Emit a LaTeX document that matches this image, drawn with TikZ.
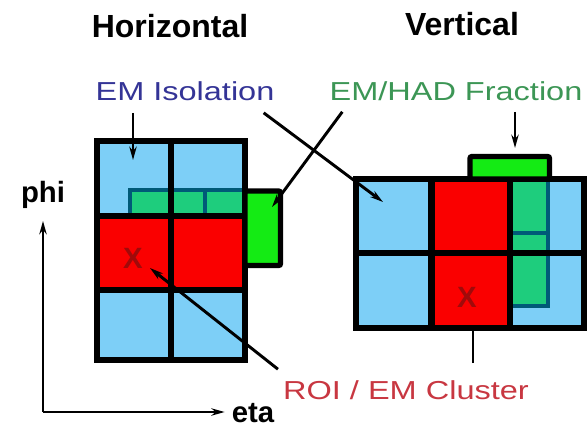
\documentclass[tikz,border=0pt]{standalone}
\usepackage{fontspec}
\setmainfont{Liberation Sans}
\newfontfamily\widefont[FakeStretch=1.25]{Liberation Sans}
\usepackage{xcolor}
\usepackage{tikz}
\usetikzlibrary{arrows.meta}

\definecolor{cellblue}{RGB}{125,207,247}
\definecolor{cellred}{RGB}{250,0,0}
\definecolor{hadgreen}{RGB}{30,205,125}
\definecolor{boxgreen}{RGB}{20,235,20}
\definecolor{tealline}{RGB}{0,90,120}
\definecolor{xred}{RGB}{160,10,10}
\definecolor{isoblue}{RGB}{52,52,150}
\definecolor{fracgreen}{RGB}{60,150,85}
\definecolor{roired}{RGB}{200,55,65}

\begin{document}
\begin{tikzpicture}[x=0.75pt,y=0.75pt,yscale=-1,xscale=1,
  cellline/.style={line width=5pt},
  tealedge/.style={draw=tealline,line width=3pt},
  greenbox/.style={fill=boxgreen,draw=black,line width=4pt,rounded corners=1.5pt},
  pointer/.style={line width=2.2pt,-{Stealth[length=10pt,width=5.5pt]}},
  headtxt/.style={inner sep=0.75pt,font=\fontsize{24}{28}\selectfont\bfseries},
  lbltxt/.style={inner sep=0.75pt,font=\widefont\fontsize{19.5}{23}\selectfont},
  axistxt/.style={inner sep=0.75pt,font=\fontsize{22}{26}\selectfont\bfseries},
  xmark/.style={inner sep=0.75pt,text=xred,font=\fontsize{22}{26}\selectfont\bfseries}]
\useasboundingbox (0,0) rectangle (588,429);

%Shape: Rectangle (horizontal grid)
\fill [cellblue] (97,141) rectangle (245,360);
\fill [cellred] (97,216) rectangle (245,290);
\fill [hadgreen] (130,190) rectangle (245,216);
\draw [tealedge] (245,190) -- (130,190) -- (130,216);
\draw [tealedge] (205,190) -- (205,216);
\draw [cellline] (97,141) rectangle (245,360);
\draw [cellline] (171,141) -- (171,360);
\draw [cellline] (97,216) -- (245,216) (97,290) -- (245,290);
%Shape: Rectangle (HAD box)
\draw [greenbox] (245,191) rectangle (280.5,265.5);

%Shape: Rectangle (vertical grid)
\fill [cellblue] (356,179) rectangle (584,328);
\fill [cellred] (431.5,179) rectangle (510,328);
\fill [hadgreen] (510,179) rectangle (548,305.5);
\draw [tealedge] (548,179) -- (548,305.5) -- (510,305.5);
\draw [tealedge] (510,233) -- (548,233);
\draw [cellline] (356,179) rectangle (584,328);
\draw [cellline] (431.5,179) -- (431.5,328) (510,179) -- (510,328);
\draw [cellline] (356,253) -- (584,253);
%Shape: Rectangle (HAD box)
\draw [greenbox] (470,156.5) rectangle (549.5,179);

% Text Node
\draw (133,258) node [xmark] (xleft) {X};
% Text Node
\draw (467,297) node [xmark] (xright) {X};
% Text Node
\draw (170,26) node [headtxt] (horiz) {Horizontal};
% Text Node
\draw (462,24) node [headtxt] (vert) {Vertical};
% Text Node
\draw (185,91) node [lbltxt,text=isoblue] (emiso) {EM Isolation};
% Text Node
\draw (456,91) node [lbltxt,text=fracgreen] (emhad) {EM/HAD Fraction};
% Text Node
\draw (406,390) node [lbltxt,text=roired] (roi) {ROI / EM Cluster};
% Text Node
\draw (43,195) node [axistxt] (phi) {phi};
% Text Node
\draw (253,413) node [axistxt] (eta) {eta};

\coordinate (isotip) at (133,160);
\coordinate (vcell) at (383,202);
\coordinate (boxtip) at (272,207);
\coordinate (toptip) at (515,148);
\coordinate (roitip) at (150,268);
\coordinate (roibase) at (473,328);
\coordinate (origin) at (43,412);

%Straight Lines
\draw [pointer] (emiso.south -| isotip) ++(0,11) -- (isotip);
\draw [pointer] (emiso.south east) ++(-12,11) -- (vcell);
\draw [pointer] (emhad.south west) ++(14,10) -- (boxtip);
\draw [pointer] (emhad.south -| toptip) ++(0,10) -- (toptip);
\draw [pointer] (roi.north west) ++(-4,-10) -- (roitip);
\draw [line width=2.2pt] (roi.north -| roibase) ++(0,-16) -- (roibase);
%Straight Lines (axes)
\draw [pointer,shorten >=8.25pt] (origin) -- (origin |- phi.south);
\draw [pointer,shorten >=4.4pt] (origin) -- (origin -| eta.west);

\end{tikzpicture}
\end{document}
